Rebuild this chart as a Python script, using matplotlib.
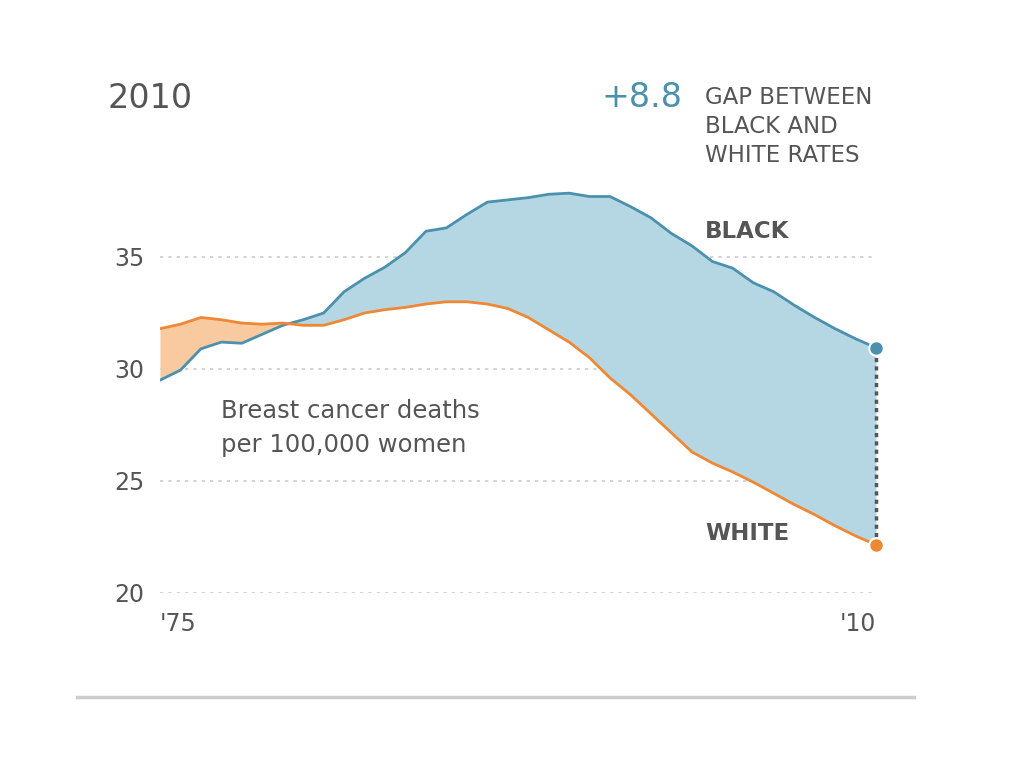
import numpy as np
import matplotlib.pyplot as plt

plt.rcParams['font.family'] = ['DejaVu Sans']

years = list(range(1975, 2011))
black = [29.5, 29.95, 30.9, 31.2, 31.15, 31.55, 31.95, 32.2, 32.5, 33.45,
         34.05, 34.55, 35.2, 36.15, 36.3, 36.9, 37.45, 37.55, 37.65, 37.8,
         37.85, 37.7, 37.7, 37.25, 36.75, 36.05, 35.5, 34.8, 34.5, 33.85,
         33.45, 32.85, 32.3, 31.8, 31.35, 30.95]
white = [31.8, 32.0, 32.3, 32.2, 32.05, 32.0, 32.05, 31.95, 31.95, 32.2,
         32.5, 32.65, 32.75, 32.9, 33.0, 33.0, 32.9, 32.7, 32.3, 31.75,
         31.2, 30.5, 29.6, 28.85, 28.0, 27.15, 26.3, 25.8, 25.4, 24.95,
         24.45, 23.95, 23.5, 23.0, 22.55, 22.15]
y_ticks = [20, 25, 30, 35]
x_tick_labels = ["'75", "'10"]

blue_line = '#4b91ad'
blue_fill = '#b5d6e3'
orange_line = '#ef8834'
orange_fill = '#f9c9a0'
grey_text = '#555555'

def px(x, y):
    return x / 1024, 1 - y / 768

fig = plt.figure(figsize=(10.24, 7.68), dpi=100)

# axes placed so that 1975..2010 -> 160..876 px and 20..38.5 -> 593..178.6 px
top_px = 593 - 18.5 * 22.4
ax = fig.add_axes([160 / 1024, (768 - 593) / 768, 716 / 1024, (593 - top_px) / 768])
ax.set_xlim(1975, 2010)
ax.set_ylim(20, 38.5)

yr = np.array(years)
b = np.array(black)
w = np.array(white)

ax.fill_between(yr, w, b, where=b >= w, interpolate=True, color=blue_fill, lw=0)
ax.fill_between(yr, w, b, where=b < w, interpolate=True, color=orange_fill, lw=0)
ax.plot(yr, b, color=blue_line, lw=2, solid_capstyle='round')
ax.plot(yr, w, color=orange_line, lw=2, solid_capstyle='round')

# gap marker
ax.plot([years[-1], years[-1]], [white[-1], black[-1]], color='#555555',
        lw=2.5, linestyle=(0, (1.2, 1.2)), clip_on=False, zorder=4)
ax.scatter([years[-1]], [black[-1]], s=110, color=blue_line, edgecolor='white',
           linewidth=1.5, zorder=5, clip_on=False)
ax.scatter([years[-1]], [white[-1]], s=110, color=orange_line, edgecolor='white',
           linewidth=1.5, zorder=5, clip_on=False)

ax.set_yticks(y_ticks)
ax.set_yticklabels([str(t) for t in y_ticks])
ax.set_xticks([years[0], years[-1]])
ax.set_xticklabels(x_tick_labels)
xl = ax.get_xticklabels()
xl[0].set_horizontalalignment('left')
xl[1].set_horizontalalignment('right')
ax.tick_params(axis='y', length=0, pad=11, labelsize=17, labelcolor=grey_text)
ax.tick_params(axis='x', length=0, pad=14, labelsize=17, labelcolor=grey_text)
ax.grid(axis='y', linestyle=(0, (2, 3)), color='#cccccc', lw=1.2)
ax.grid(axis='x', visible=False)
ax.set_axisbelow(True)
for s in ax.spines.values():
    s.set_visible(False)
ax.patch.set_visible(False)

# annotations
fig.text(*px(108, 108), '2010', fontsize=24, color=grey_text, va='baseline')
fig.text(*px(682, 107), '+8.8', fontsize=24, color=blue_line, va='baseline', ha='right')
for i, line in enumerate(['GAP BETWEEN', 'BLACK AND', 'WHITE RATES']):
    fig.text(*px(705, 104 + 29 * i), line, fontsize=16.5, color=grey_text, va='baseline')
fig.text(*px(705, 238), 'BLACK', fontsize=16.5, fontweight='bold', color=grey_text, va='baseline')
fig.text(*px(705, 540), 'WHITE', fontsize=16.5, fontweight='bold', color=grey_text, va='baseline')
fig.text(*px(221, 418), 'Breast cancer deaths', fontsize=17.5, color=grey_text, va='baseline')
fig.text(*px(221, 452), 'per 100,000 women', fontsize=17.5, color=grey_text, va='baseline')

# bottom rule
fig.add_artist(plt.Line2D([77 / 1024, 914 / 1024], [1 - 697 / 768, 1 - 697 / 768],
                          color='#cccccc', lw=2.5))

fig.savefig('out.png', dpi=100)
